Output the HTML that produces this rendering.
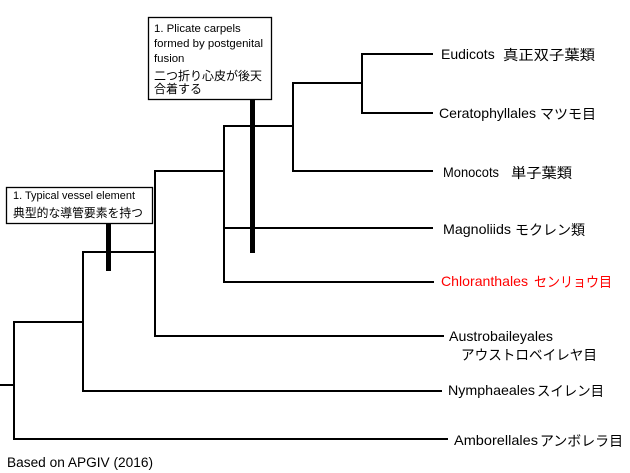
<!DOCTYPE html>
<html><head><meta charset="utf-8"><style>
html,body{margin:0;padding:0;background:#fff;}
svg{display:block;}
text{font-family:"Liberation Sans","Noto Sans CJK JP",sans-serif;fill:#000;}
.jp{font-family:"Noto Sans CJK JP","Liberation Sans",sans-serif;}
</style></head><body>
<svg width="630" height="473" viewBox="0 0 630 473" xmlns="http://www.w3.org/2000/svg">
<g stroke="#000" stroke-width="2" fill="none" stroke-linecap="square">
<path d="M0 385H14"/>
<path d="M14 322V439"/>
<path d="M14 322H83"/>
<path d="M14 439H447"/>
<path d="M83 252V391"/>
<path d="M83 252H155"/>
<path d="M83 391H441"/>
<path d="M155 171V336"/>
<path d="M155 336H443"/>
<path d="M155 171H224"/>
<path d="M224 126V282"/>
<path d="M224 282H433"/>
<path d="M224 228H432"/>
<path d="M224 126H293"/>
<path d="M293 83V171"/>
<path d="M293 171H432"/>
<path d="M293 83H362"/>
<path d="M362 54V113"/>
<path d="M362 54H432"/>
<path d="M362 113H432"/>
</g>
<rect x="6.5" y="187.5" width="146" height="36" fill="#fff" stroke="#000" stroke-width="1.3"/>
<rect x="148.5" y="17.5" width="123" height="82" fill="#fff" stroke="#000" stroke-width="1.3"/>
<rect x="106" y="223" width="5" height="48" fill="#000"/>
<rect x="250" y="100" width="5" height="153" fill="#000"/>

<text x="13" y="199" font-size="11" textLength="122" lengthAdjust="spacingAndGlyphs">1. Typical vessel element</text>
<text x="13" y="217" font-size="12" class="jp" textLength="130" lengthAdjust="spacingAndGlyphs">典型的な導管要素を持つ</text>

<text x="154" y="32" font-size="11.4">1. Plicate carpels</text>
<text x="154" y="47" font-size="11.4" textLength="109" lengthAdjust="spacingAndGlyphs">formed by postgenital</text>
<text x="154" y="62" font-size="11.4">fusion</text>
<text x="154" y="80" font-size="12" class="jp" textLength="108" lengthAdjust="spacingAndGlyphs">二つ折り心皮が後天</text>
<text x="154" y="93" font-size="12" class="jp">合着する</text>

<text x="441" y="59" font-size="14">Eudicots</text>
<text x="503" y="60" font-size="14" class="jp" textLength="92" lengthAdjust="spacingAndGlyphs">真正双子葉類</text>

<text x="439" y="118" font-size="14" textLength="97" lengthAdjust="spacingAndGlyphs">Ceratophyllales</text>
<text x="540" y="119" font-size="14" class="jp" textLength="56" lengthAdjust="spacingAndGlyphs">マツモ目</text>

<text x="443" y="177" font-size="14" textLength="56" lengthAdjust="spacingAndGlyphs">Monocots</text>
<text x="511" y="178" font-size="14" class="jp" textLength="61" lengthAdjust="spacingAndGlyphs">単子葉類</text>

<text x="443" y="234" font-size="14" textLength="68" lengthAdjust="spacingAndGlyphs">Magnoliids</text>
<text x="515" y="235" font-size="14" class="jp" textLength="70" lengthAdjust="spacingAndGlyphs">モクレン類</text>

<text x="441" y="286" font-size="14" style="fill:#ff0000" textLength="87" lengthAdjust="spacingAndGlyphs">Chloranthales</text>
<text x="534" y="287" font-size="14" class="jp" style="fill:#ff0000" textLength="78" lengthAdjust="spacingAndGlyphs">センリョウ目</text>

<text x="449" y="341" font-size="14" textLength="104" lengthAdjust="spacingAndGlyphs">Austrobaileyales</text>
<text x="461" y="360" font-size="14" class="jp" textLength="136" lengthAdjust="spacingAndGlyphs">アウストロベイレヤ目</text>

<text x="448" y="395" font-size="14" textLength="87" lengthAdjust="spacingAndGlyphs">Nymphaeales</text>
<text x="537" y="396" font-size="14" class="jp" textLength="67" lengthAdjust="spacingAndGlyphs">スイレン目</text>

<text x="454" y="445" font-size="14" textLength="84" lengthAdjust="spacingAndGlyphs">Amborellales</text>
<text x="540" y="446" font-size="14" class="jp" textLength="83" lengthAdjust="spacingAndGlyphs">アンボレラ目</text>

<text x="7" y="467" font-size="13.5" textLength="146" lengthAdjust="spacingAndGlyphs">Based on APGIV (2016)</text>
</svg>
</body></html>
